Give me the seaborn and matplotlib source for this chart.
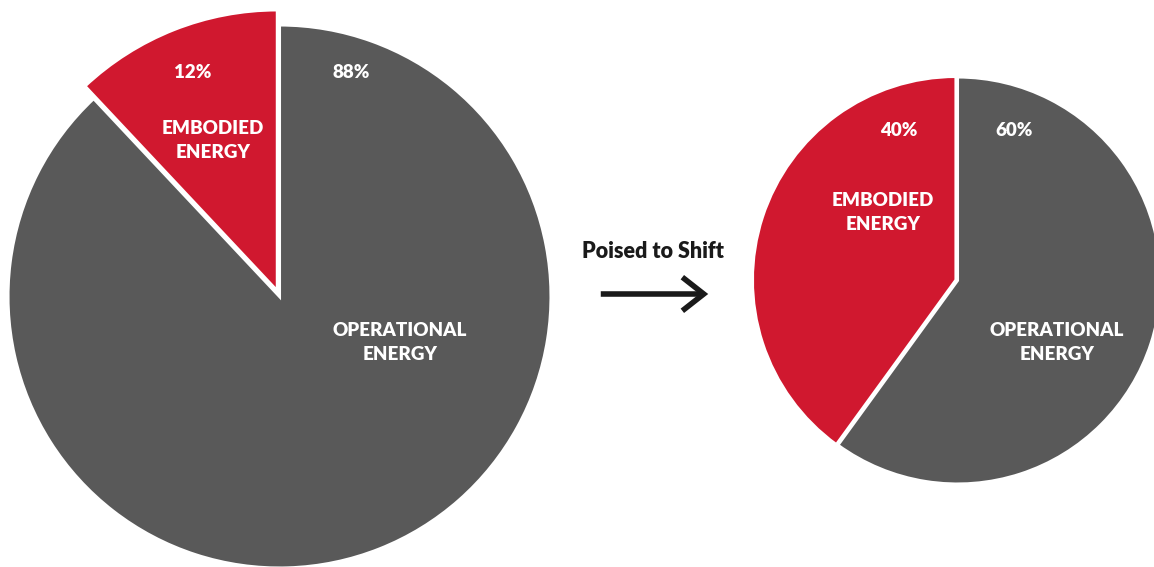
import matplotlib
matplotlib.use("Agg")
import matplotlib.pyplot as plt
from matplotlib.patches import FancyArrowPatch
import seaborn as sns

# Share of life-cycle energy, before and after the shift
labels = ["EMBODIED\nENERGY", "OPERATIONAL\nENERGY"]
today_share = [12, 88]
future_share = [40, 60]
middle_text = "Poised to Shift"

sns.set_theme(style="white")
plt.rcParams['font.family'] = ['Lato', 'DejaVu Sans']
colors = sns.color_palette(["#D0182F", "#595959"])

W, H = 1154, 567
fig = plt.figure(figsize=(W / 100, H / 100), dpi=100)
fig.patch.set_facecolor("white")


def px(x, y):
    # pixel position (from top-left) -> figure fraction
    return x / W, 1 - y / H


def pie_axes(cx, cy, r):
    ax = fig.add_axes([(cx - r) / W, (H - cy - r) / H, 2 * r / W, 2 * r / H])
    ax.set_xlim(-1, 1)
    ax.set_ylim(-1, 1)
    ax.axis("off")
    return ax


txt = dict(color="white", fontsize=13.5, fontweight="heavy", ha="center", va="center",
           linespacing=1.5)

# Left pie: today
ax1 = pie_axes(279.5, 296.5, 271.5)
wedges, _ = ax1.pie(today_share, colors=colors, startangle=90, counterclock=True,
                    explode=[0.022, 0], radius=1,
                    wedgeprops=dict(edgecolor="white", linewidth=2.2))
wedges[0].set_radius(1.035)
for w in wedges:
    w.set_clip_on(False)
ax1.set_xlim(-1, 1)
ax1.set_ylim(-1, 1)

fig.text(*px(193, 72), f"{today_share[0]}%", **txt)
fig.text(*px(213, 140), labels[0], **txt)
fig.text(*px(351, 72), f"{today_share[1]}%", **txt)
fig.text(*px(400, 342), labels[1], **txt)

# Right pie: poised to shift
ax2 = pie_axes(957.5, 280.5, 203.5)
wedges2, _ = ax2.pie(future_share, colors=colors, startangle=90, counterclock=True,
                     explode=[0.008, 0], radius=1,
                     wedgeprops=dict(edgecolor="white", linewidth=2.2))
for w in wedges2:
    w.set_clip_on(False)
ax2.set_xlim(-1, 1)
ax2.set_ylim(-1, 1)

fig.text(*px(899, 130), f"{future_share[0]}%", **txt)
fig.text(*px(883, 212), labels[0], **txt)
fig.text(*px(1014, 130), f"{future_share[1]}%", **txt)
fig.text(*px(1057, 342), labels[1], **txt)

# Arrow between the two
fig.text(*px(653, 252), middle_text, color="#1a1a1a", fontsize=15.5, fontweight="heavy",
         ha="center", va="center")
arrow = FancyArrowPatch(px(598, 294), px(711, 294), transform=fig.transFigure,
                        arrowstyle="->,head_length=0.7,head_width=0.55",
                        mutation_scale=22, linewidth=4, color="#1a1a1a",
                        capstyle="butt", joinstyle="miter")
fig.add_artist(arrow)

fig.savefig("out.png", dpi=100, facecolor="white")
plt.close()
